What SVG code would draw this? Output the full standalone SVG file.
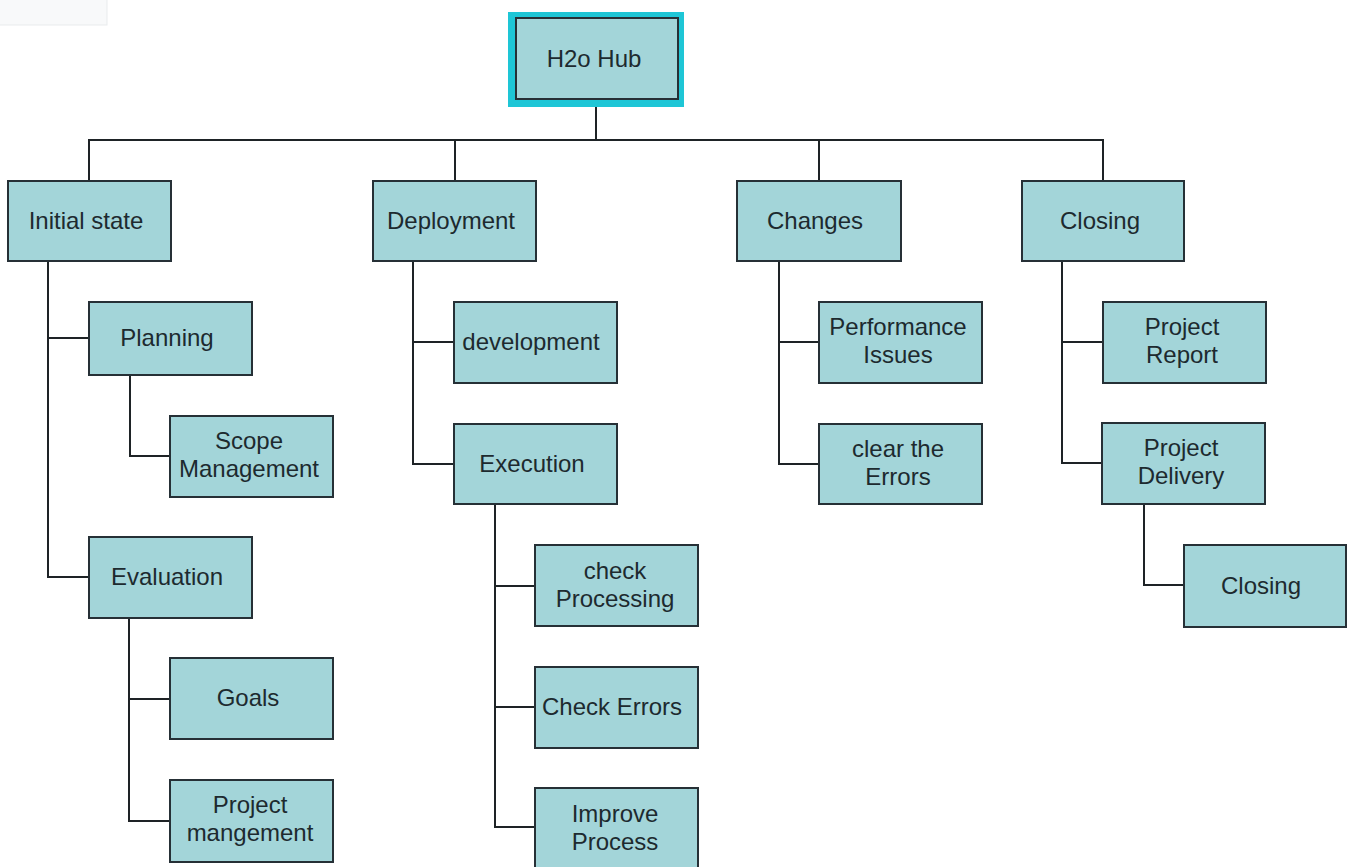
<svg xmlns="http://www.w3.org/2000/svg" width="1348" height="867" viewBox="0 0 1348 867">
<style>
.box{fill:#a3d5d9;stroke:#263036;stroke-width:2}
.t{font-family:"Liberation Sans",Arial,sans-serif;font-size:24px;fill:#1d2a2f;text-anchor:middle}
.c{fill:none;stroke:#1e2326;stroke-width:2}
</style>
<rect x="0" y="0" width="1348" height="867" fill="#ffffff"/>
<rect x="-1" y="-1" width="108" height="26" fill="#f8f9fa" stroke="#e9ebed" stroke-width="1"/>
<g id="connectors">
<path class="c" d="M596 99V140"/>
<path class="c" d="M89 181V140H1103V181"/>
<path class="c" d="M455 140V181"/>
<path class="c" d="M819 140V181"/>
<path class="c" d="M48 261V577H89M48 338H89"/>
<path class="c" d="M130 375V456H170"/>
<path class="c" d="M129 618V821H170M129 699H170"/>
<path class="c" d="M413 261V464H454M413 342H454"/>
<path class="c" d="M495 504V827H535M495 586H535M495 707H535"/>
<path class="c" d="M779 261V464H819M779 342H819"/>
<path class="c" d="M1062 261V463H1102M1062 342H1103"/>
<path class="c" d="M1144 504V585H1184"/>
</g>
<g id="hub">
<rect x="508" y="12" width="176" height="95" fill="#1ec6d6"/>
<rect class="box" x="516" y="18" width="162" height="81"/>
<text class="t" x="594" y="67">H2o Hub</text>
</g>
<g id="initial"><rect class="box" x="8" y="181" width="163" height="80"/><text class="t" x="86" y="229">Initial state</text></g>
<g id="deployment"><rect class="box" x="373" y="181" width="163" height="80"/><text class="t" x="451" y="229">Deployment</text></g>
<g id="changes"><rect class="box" x="737" y="181" width="164" height="80"/><text class="t" x="815" y="229">Changes</text></g>
<g id="closing"><rect class="box" x="1022" y="181" width="162" height="80"/><text class="t" x="1100" y="229">Closing</text></g>
<g id="planning"><rect class="box" x="89" y="302" width="163" height="73"/><text class="t" x="167" y="346">Planning</text></g>
<g id="scope"><rect class="box" x="170" y="416" width="163" height="81"/><text class="t" x="249" y="449">Scope</text><text class="t" x="249" y="477">Management</text></g>
<g id="evaluation"><rect class="box" x="89" y="537" width="163" height="81"/><text class="t" x="167" y="585">Evaluation</text></g>
<g id="goals"><rect class="box" x="170" y="658" width="163" height="81"/><text class="t" x="248" y="706">Goals</text></g>
<g id="projmgmt"><rect class="box" x="170" y="780" width="163" height="82"/><text class="t" x="250" y="813">Project</text><text class="t" x="250" y="841">mangement</text></g>
<g id="development"><rect class="box" x="454" y="302" width="163" height="81"/><text class="t" x="531" y="350">development</text></g>
<g id="execution"><rect class="box" x="454" y="424" width="163" height="80"/><text class="t" x="532" y="472">Execution</text></g>
<g id="checkproc"><rect class="box" x="535" y="545" width="163" height="81"/><text class="t" x="615" y="579">check</text><text class="t" x="615" y="607">Processing</text></g>
<g id="checkerr"><rect class="box" x="535" y="667" width="163" height="81"/><text class="t" x="612" y="715">Check Errors</text></g>
<g id="improve"><rect class="box" x="535" y="788" width="163" height="90"/><text class="t" x="615" y="822">Improve</text><text class="t" x="615" y="850">Process</text></g>
<g id="performance"><rect class="box" x="819" y="302" width="163" height="81"/><text class="t" x="898" y="335">Performance</text><text class="t" x="898" y="363">Issues</text></g>
<g id="clear"><rect class="box" x="819" y="424" width="163" height="80"/><text class="t" x="898" y="457">clear the</text><text class="t" x="898" y="485">Errors</text></g>
<g id="report"><rect class="box" x="1103" y="302" width="163" height="81"/><text class="t" x="1182" y="335">Project</text><text class="t" x="1182" y="363">Report</text></g>
<g id="delivery"><rect class="box" x="1102" y="423" width="163" height="81"/><text class="t" x="1181" y="456">Project</text><text class="t" x="1181" y="484">Delivery</text></g>
<g id="closing2"><rect class="box" x="1184" y="545" width="162" height="82"/><text class="t" x="1261" y="594">Closing</text></g>
</svg>
